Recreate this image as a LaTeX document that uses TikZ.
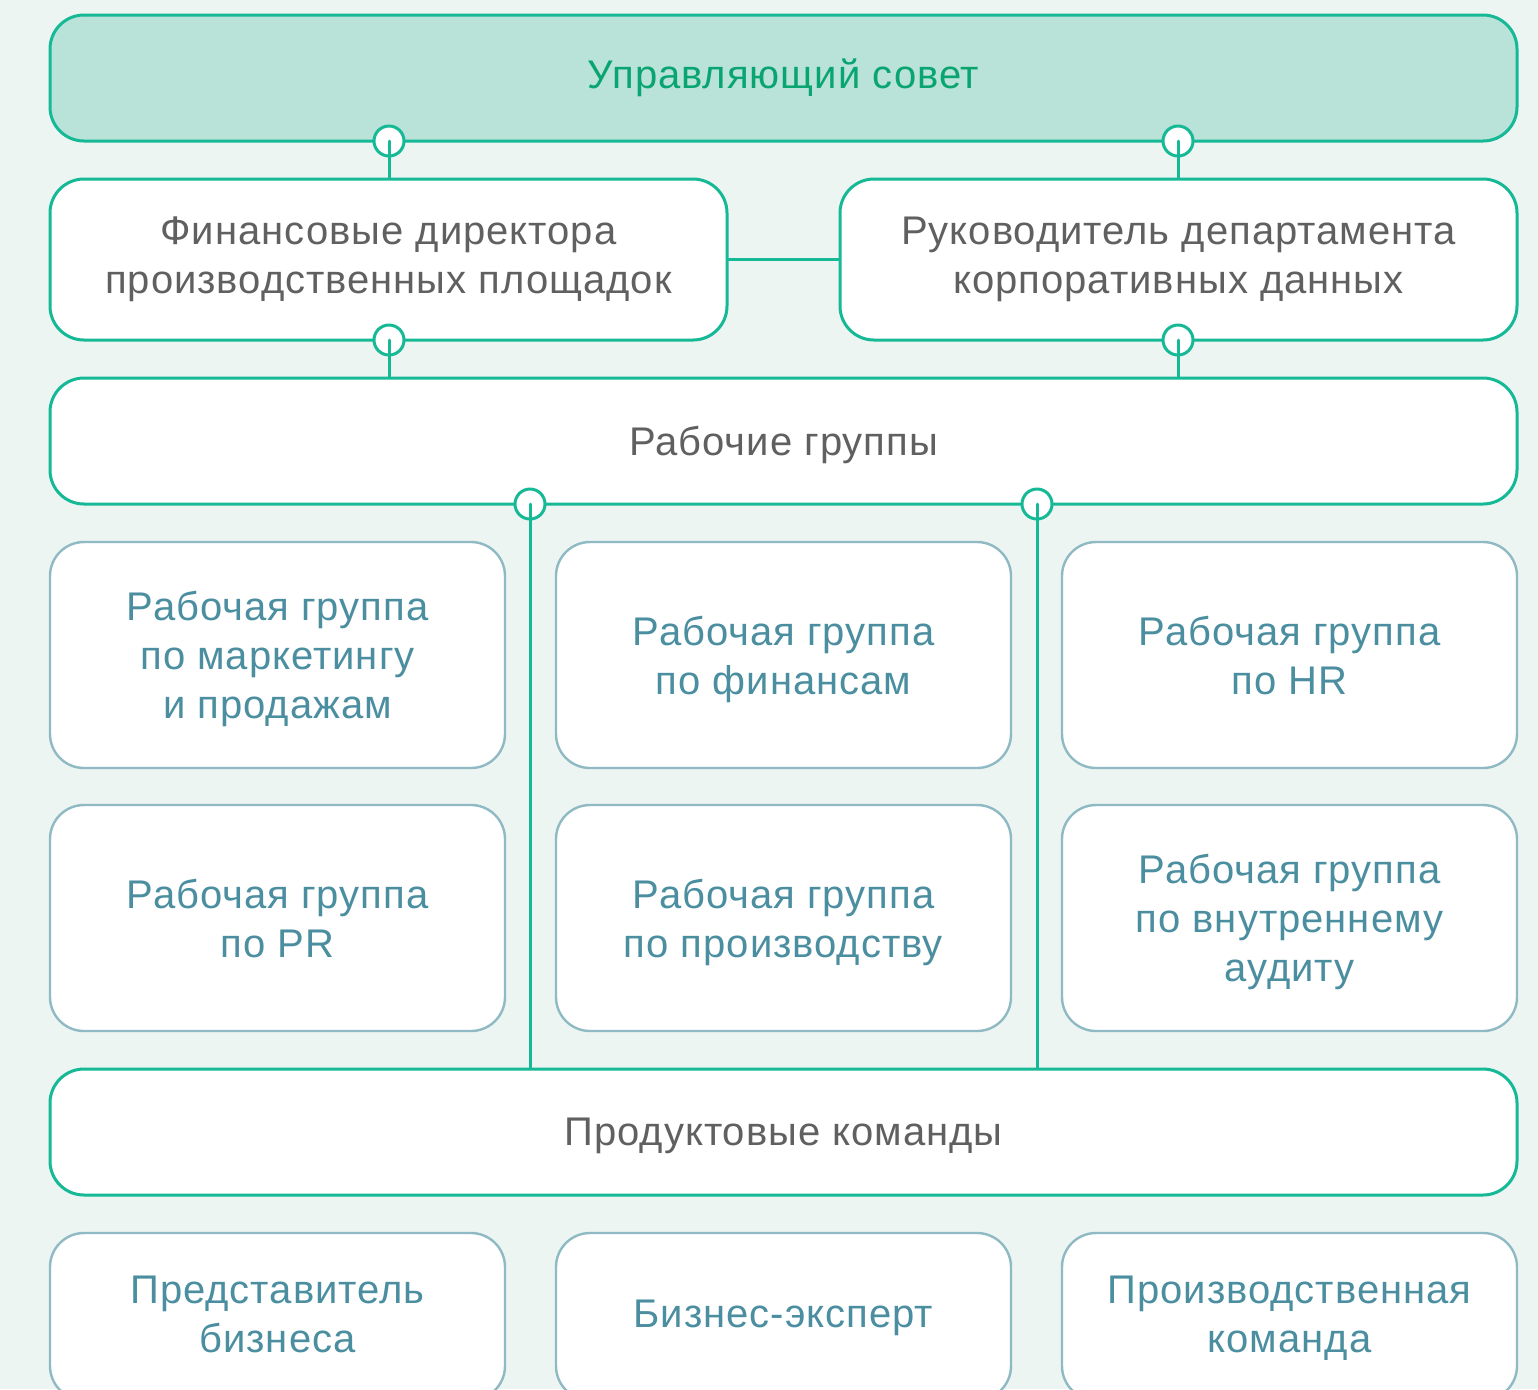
\documentclass[tikz,border=0pt]{standalone}
\usepackage{fontspec}
\setmainfont{Liberation Sans}[LetterSpace=2.5]
\definecolor{Bg}{RGB}{236,245,242}
\definecolor{Topfill}{RGB}{185,226,216}
\definecolor{Lgreen}{RGB}{22,185,150}
\definecolor{Lgray}{RGB}{143,186,196}
\definecolor{Tgreen}{RGB}{8,165,112}
\definecolor{Tdark}{RGB}{96,96,96}
\definecolor{Tblue}{RGB}{74,142,160}

\begin{document}
\begin{tikzpicture}[x=0.5pt,y=-0.5pt,line cap=round,
  txt/.style={align=center,font=\fontsize{20}{24.5}\selectfont},
  lowtext/.style={text depth=-0.5pt},
  mainbox/.style={txt,draw=Lgreen,line width=1.5pt,fill=white,rounded corners=17pt,
    inner sep=0pt,text=Tdark},
  groupbox/.style={txt,lowtext,draw=Lgray,line width=1.2pt,fill=white,rounded corners=17pt,
    inner sep=0pt,text=Tblue,minimum width=227.5pt,minimum height=113pt},
  rolebox/.style={groupbox,text depth=2.5pt,minimum height=83.5pt},
  joint/.style={circle,draw=Lgreen,line width=1.5pt,fill=white,minimum size=15pt,inner sep=0pt},
  link/.style={draw=Lgreen,line width=1.5pt}]
\path[use as bounding box] (0,0) rectangle (1538,1389);
\clip (0,0) rectangle (1538,1389);
\fill[Bg] (0,0) rectangle (1538,1389);

% top level
\node[mainbox,fill=Topfill,text=Tgreen,minimum width=733.5pt,minimum height=63pt] (board) at (783.5,78) {Управляющий совет};
\node[mainbox,minimum width=338.5pt,minimum height=80.5pt] (fin) at (388.5,259.5) {Финансовые директора\\производственных площадок};
\node[mainbox,minimum width=338.5pt,minimum height=80.5pt] (cdo) at (1178.5,259.5) {Руководитель департамента\\корпоративных данных};
\node[mainbox,lowtext,minimum width=733.5pt,minimum height=63pt] (wg) at (783.5,441) {Рабочие группы};

% working groups
\node[groupbox] (mkt) at (277.5,655) {Рабочая группа\\по маркетингу\\и продажам};
\node[groupbox] (fng) at (783.5,655) {Рабочая группа\\по финансам};
\node[groupbox] (hr) at (1289.5,655) {Рабочая группа\\по HR};
\node[groupbox] (pr) at (277.5,918) {Рабочая группа\\по PR};
\node[groupbox] (prod) at (783.5,918) {Рабочая группа\\по производству};
\node[groupbox] (audit) at (1289.5,918) {Рабочая группа\\по внутреннему\\аудиту};

\node[mainbox,lowtext,minimum width=733.5pt,minimum height=63pt] (pt) at (783.5,1132) {Продуктовые команды};

% product team roles
\node[rolebox] (biz) at (277.5,1316.5) {Представитель\\бизнеса};
\node[rolebox] (exp) at (783.5,1316.5) {Бизнес-эксперт};
\node[rolebox] (team) at (1289.5,1316.5) {Производственная\\команда};

% connectors
\draw[link] (fin.east) -- (cdo.west);
\node[joint] (j1) at (389,141) {};
\node[joint] (j2) at (1178,141) {};
\node[joint] (j3) at (389,340) {};
\node[joint] (j4) at (1178,340) {};
\node[joint] (j5) at (530,504) {};
\node[joint] (j6) at (1037,504) {};
\draw[link] (j1.center) -- (fin.north -| j1);
\draw[link] (j2.center) -- (cdo.north -| j2);
\draw[link] (j3.center) -- (wg.north -| j3);
\draw[link] (j4.center) -- (wg.north -| j4);
\draw[link] (j5.center) -- (pt.north -| j5);
\draw[link] (j6.center) -- (pt.north -| j6);
\end{tikzpicture}
\end{document}
